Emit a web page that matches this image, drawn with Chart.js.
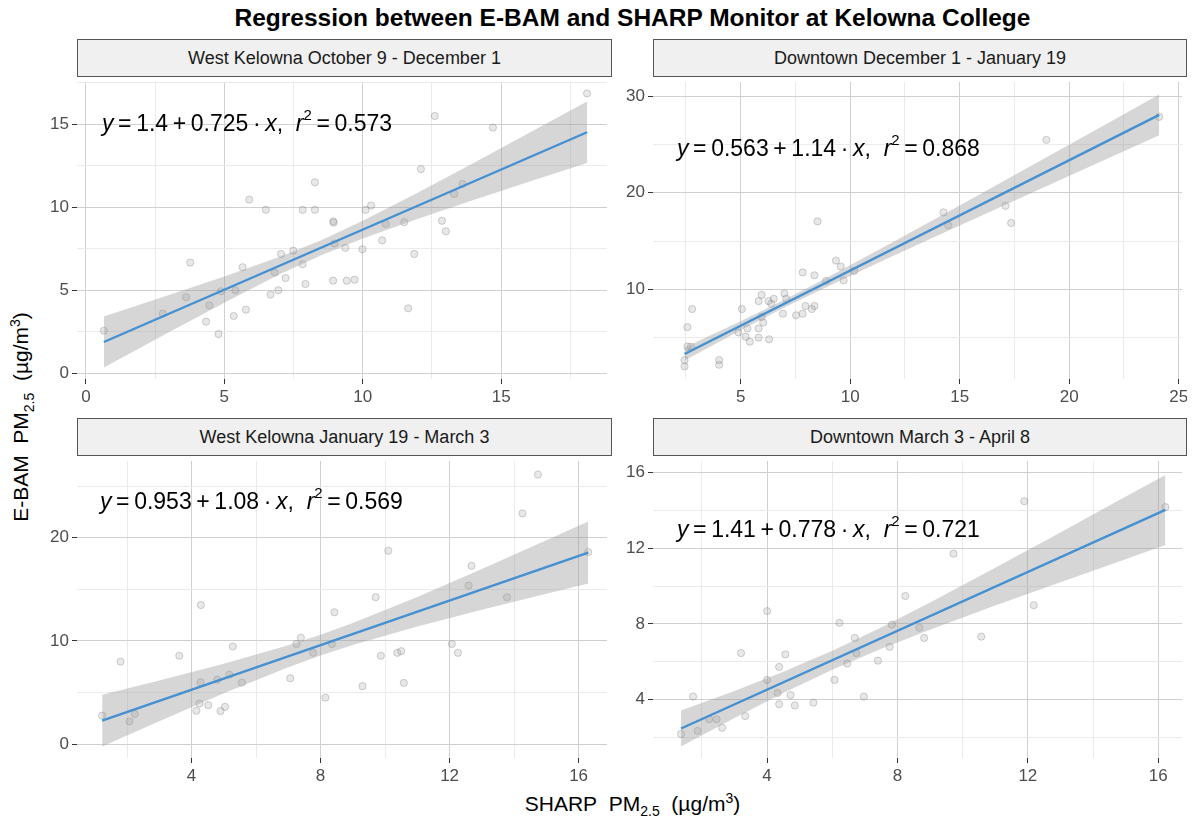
<!DOCTYPE html>
<html>
<head>
<meta charset="utf-8">
<script src="https://cdn.jsdelivr.net/npm/chart.js@4.4.1/dist/chart.umd.min.js"></script>
<style>
    body { margin: 0; background: #fff; font-family: "Liberation Sans", Arial, sans-serif; }
    #wrap { position: relative; width: 1198px; height: 828px; overflow: hidden; }
    .title { position: absolute; left: 77px; width: 1111px; top: 3px; line-height: 30px; text-align: center; font-weight: bold; font-size: 24.5px; color: #000; }
    .strip { position: absolute; box-sizing: border-box; background: #f0f0f0; border: 1.5px solid #555; font-size: 18px; color: #1a1a1a; display: flex; align-items: center; justify-content: center; }
    .panel { position: absolute; }
    .eq { position: absolute; font-size: 23px; color: #000; white-space: nowrap; line-height: 1; }
    .eq sup { font-size: 15px; position: relative; top: -2px; }
    .xtitle { position: absolute; left: 77px; width: 1111px; top: 790px; text-align: center; font-size: 21px; color: #000; white-space: nowrap; }
    .ytitle { position: absolute; left: 22px; top: 417px; transform: translate(-50%, -50%) rotate(-90deg); font-size: 21px; color: #000; white-space: nowrap; }
    sub { font-size: 14px; }
</style>
</head>
<body>
<div id="wrap">
    <div class="title">Regression between E-BAM and SHARP Monitor at Kelowna College</div>
    <div class="xtitle">SHARP&nbsp; PM<sub>2.5</sub>&nbsp; (µg/m<sup style="font-size:14px">3</sup>)</div>
    <div class="ytitle">E-BAM&nbsp; PM<sub>2.5</sub>&nbsp; (µg/m<sup style="font-size:14px">3</sup>)</div>
</div>
<script>
// West Kelowna Oct 9 - Dec 1
const p1X = [0.65,18.1,12.6,14.7,12.1,8.27,5.9,6.5,7.83,8.27,10.1,10.3,8.93,8.95,10.83,11.5,12.86,13.0,13.3,13.6,10.7,9.99,9.37,8.98,11.86,7.05,7.49,7.83,6.82,7.21,5.66,3.77,7.93,8.93,9.42,9.7,6.95,6.67,5.4,4.88,3.62,4.46,5.78,5.34,4.34,4.79,2.78,11.64];
const p1Y = [2.55,16.86,15.5,14.8,12.3,11.5,10.46,9.84,9.84,9.84,9.84,10.1,9.15,9.07,8.99,9.1,9.18,8.55,10.8,11.4,8.0,7.46,7.55,7.81,7.18,7.18,7.38,6.56,6.06,5.73,6.38,6.66,5.37,5.57,5.57,5.63,4.99,4.73,4.99,4.93,4.57,4.08,3.82,3.44,3.1,2.35,3.58,3.9];
const p1FitX = [0.65, 18.1];
const p1FitY = [1.87, 14.52];
const p1BandX = [0.65,3,5,7,8.5,10,12,14,16,18.1];
const p1BandLo = [0.33,2.46,4.24,5.95,7.11,8.12,9.31,10.43,11.53,12.67];
const p1BandHi = [3.41,4.70,5.82,7.01,8.01,9.18,10.89,12.67,14.47,16.37];

// Downtown Dec 1 - Jan 19
const p2X = [24.11,18.96,17.09,17.35,14.26,14.48,8.51,9.35,9.57,9.70,10.19,7.83,8.37,7.0,6.51,5.96,5.82,6.27,6.40,7.08,7.96,8.37,8.25,7.53,7.83,6.93,5.06,5.96,6.03,5.82,5.31,4.90,5.23,5.42,5.82,6.30,2.79,2.57,2.57,2.73,2.44,2.44,4.02,4.02,8.9];
const p2Y = [27.85,25.47,18.65,16.88,17.97,16.64,17.05,13.0,12.38,10.95,11.94,11.77,11.47,9.59,9.05,9.45,8.81,8.81,8.53,9.05,8.30,8.30,7.99,7.34,7.51,7.51,7.99,7.17,6.59,5.98,5.98,5.57,5.13,4.62,5.03,4.86,7.99,6.12,4.11,4.11,2.71,2.06,2.71,2.23,10.9];
const p2FitX = [2.44, 24.11];
const p2FitY = [3.34, 28.05];
const p2BandX = [2.44,5,7,9,12,15,18,21,24.11];
const p2BandLo = [2.66,5.79,8.14,10.35,13.52,16.62,19.69,22.76,25.95];
const p2BandHi = [4.02,6.73,8.94,11.29,14.96,18.70,22.47,26.24,30.15];

// West Kelowna Jan 19 - Mar 3
const p3X = [1.23,1.80,2.08,2.24,3.62,4.29,5.28,4.28,4.80,5.17,5.56,4.25,4.52,4.15,5.04,4.90,7.06,7.25,7.39,7.77,8.35,8.43,8.15,9.30,9.71,10.10,9.87,10.38,10.50,10.58,12.07,12.26,12.59,12.68,13.78,14.26,14.74,16.30];
const p3Y = [2.76,7.99,2.19,2.92,8.56,13.47,9.45,5.99,6.24,6.72,5.96,3.93,3.77,3.23,3.61,3.20,6.37,9.70,10.30,8.84,9.70,12.77,4.50,5.61,14.23,18.73,8.56,8.84,9.0,5.93,9.70,8.84,15.37,17.27,14.23,22.35,26.12,18.61];
const p3FitX = [1.23, 16.3];
const p3FitY = [2.28, 18.56];
const p3BandX = [1.23,3,5,7,8,9,11,13,15,16.3];
const p3BandLo = [-0.23,2.22,4.92,7.45,8.59,9.61,11.40,13.02,14.56,15.56];
const p3BandHi = [4.79,6.16,7.78,9.57,10.59,11.73,14.26,16.96,19.74,21.56];

// Downtown Mar 3 - Apr 8
const p4X = [1.36,1.73,1.87,2.22,2.45,2.62,3.20,3.33,4.0,4.0,4.32,4.37,4.37,4.56,4.72,4.85,5.42,6.07,6.22,6.46,6.69,6.74,6.97,7.40,7.76,7.83,8.24,8.67,8.82,9.72,10.57,11.89,12.18,16.22];
const p4Y = [2.18,4.16,2.34,2.96,2.96,2.51,6.46,3.13,8.68,5.04,4.35,5.73,3.76,6.39,4.24,3.69,3.84,5.04,8.06,5.91,7.26,6.46,4.16,6.06,6.79,7.97,9.48,7.80,7.26,11.72,7.33,14.49,8.99,14.18];
const p4FitX = [1.36, 16.22];
const p4FitY = [2.47, 14.03];
const p4BandX = [1.36,3,4.5,6,7.5,9,11,13,14.5,16.22];
const p4BandLo = [1.52,3.02,4.35,5.58,6.69,7.69,8.97,10.20,11.12,12.18];
const p4BandHi = [3.42,4.46,5.47,6.58,7.81,9.13,10.97,12.84,14.26,15.88];

// tick labels (major) per panel
const p1XTicks = [0,5,10,15], p1YTicks = [0,5,10,15];
const p2XTicks = [5,10,15,20,25], p2YTicks = [10,20,30];
const p3XTicks = [4,8,12,16], p3YTicks = [0,10,20];
const p4XTicks = [4,8,12,16], p4YTicks = [4,8,12,16];

const panels = [
    { box: [77, 77, 612, 379], strip: 'West Kelowna October 9 - December 1',
      x: p1X, y: p1Y, fitX: p1FitX, fitY: p1FitY, bX: p1BandX, bLo: p1BandLo, bHi: p1BandHi,
      xr: [-0.32, 18.82], yr: [-0.36, 17.55], xt: p1XTicks, yt: p1YTicks, xs: 2.5, ys: 2.5,
      eq: ['1.4', '0.725', '0.573'], eqPos: [102, 109] },
    { box: [653, 77, 1187, 379], strip: 'Downtown December 1 - January 19',
      x: p2X, y: p2Y, fitX: p2FitX, fitY: p2FitY, bX: p2BandX, bLo: p2BandLo, bHi: p2BandHi,
      xr: [1.0, 25.15], yr: [0.76, 31.45], xt: p2XTicks, yt: p2YTicks, xs: 2.5, ys: 5,
      eq: ['0.563', '1.14', '0.868'], eqPos: [677, 134] },
    { box: [77, 456, 612, 758], strip: 'West Kelowna January 19 - March 3',
      x: p3X, y: p3Y, fitX: p3FitX, fitY: p3FitY, bX: p3BandX, bLo: p3BandLo, bHi: p3BandHi,
      xr: [0.45, 16.88], yr: [-1.35, 27.43], xt: p3XTicks, yt: p3YTicks, xs: 2, ys: 5,
      eq: ['0.953', '1.08', '0.569'], eqPos: [100, 487] },
    { box: [653, 456, 1187, 758], strip: 'Downtown March 3 - April 8',
      x: p4X, y: p4Y, fitX: p4FitX, fitY: p4FitY, bX: p4BandX, bLo: p4BandLo, bHi: p4BandHi,
      xr: [0.5, 16.73], yr: [0.91, 16.62], xt: p4XTicks, yt: p4YTicks, xs: 2, ys: 2,
      eq: ['1.41', '0.778', '0.721'], eqPos: [677, 515] }
];

const wrap = document.getElementById('wrap');
const AXW = 40, AXH = 30;

const isMajor = (v, list) => list.some(t => Math.abs(t - v) < 1e-6);

function scaleOpts(min, max, step, majors, horizontal) {
    return {
        type: 'linear', min, max,
        border: { display: false },
        grid: {
            color: ctx => isMajor(ctx.tick.value, majors) ? '#d0d0d0' : '#ebebeb',
            lineWidth: 1,
            drawTicks: true,
            tickLength: 5,
            tickColor: ctx => isMajor(ctx.tick.value, majors) ? '#333' : 'rgba(0,0,0,0)'
        },
        ticks: {
            stepSize: step,
            includeBounds: false,
            autoSkip: false,
            maxRotation: 0,
            padding: 3,
            color: '#4d4d4d',
            font: { family: '"Liberation Sans", Arial, sans-serif', size: 17 },
            callback: v => isMajor(v, majors) ? String(v) : ''
        },
        afterFit: s => {
            if (horizontal) { s.height = AXH; s.paddingLeft = 0; s.paddingRight = 0; }
            else { s.width = AXW; s.paddingTop = 0; s.paddingBottom = 0; }
        }
    };
}

panels.forEach(p => {
    const [l, t, r, b] = p.box;

    const strip = document.createElement('div');
    strip.className = 'strip';
    strip.style.left = l + 'px';
    strip.style.top = (t - 38) + 'px';
    strip.style.width = (r - l) + 'px';
    strip.style.height = '38px';
    strip.textContent = p.strip;
    wrap.appendChild(strip);

    const canvas = document.createElement('canvas');
    canvas.className = 'panel';
    canvas.width = (r - l) + AXW;
    canvas.height = (b - t) + AXH;
    canvas.style.left = (l - AXW) + 'px';
    canvas.style.top = t + 'px';
    wrap.appendChild(canvas);

    const eq = document.createElement('div');
    eq.className = 'eq';
    eq.style.left = p.eqPos[0] + 'px';
    eq.style.top = p.eqPos[1] + 'px';
    eq.innerHTML = `<i>y</i>&thinsp;=&thinsp;${p.eq[0]}&thinsp;+&thinsp;${p.eq[1]}&thinsp;·&thinsp;<i>x</i>,&nbsp; <i>r</i><sup>2</sup>&thinsp;=&thinsp;${p.eq[2]}`;
    wrap.appendChild(eq);

    new Chart(canvas, {
        type: 'scatter',
        data: {
            datasets: [
                {
                    data: p.x.map((x, i) => ({ x, y: p.y[i] })),
                    pointRadius: 3.6,
                    pointBackgroundColor: 'rgba(150,150,150,0.22)',
                    pointBorderColor: 'rgba(110,110,110,0.3)',
                    pointBorderWidth: 1,
                    order: 3
                },
                {
                    type: 'line',
                    data: p.bX.map((x, i) => ({ x, y: p.bLo[i] })),
                    borderColor: 'rgba(0,0,0,0)', borderWidth: 0, pointRadius: 0, fill: false,
                    order: 2
                },
                {
                    type: 'line',
                    data: p.bX.map((x, i) => ({ x, y: p.bHi[i] })),
                    borderColor: 'rgba(0,0,0,0)', borderWidth: 0, pointRadius: 0,
                    fill: '-1', backgroundColor: 'rgba(153,153,153,0.4)',
                    order: 2
                },
                {
                    type: 'line',
                    data: p.fitX.map((x, i) => ({ x, y: p.fitY[i] })),
                    borderColor: '#4490d2', borderWidth: 2.4, pointRadius: 0, fill: false,
                    order: 1
                }
            ]
        },
        options: {
            responsive: false,
            animation: false,
            devicePixelRatio: 1,
            layout: { padding: 0 },
            plugins: { legend: { display: false }, tooltip: { enabled: false } },
            scales: {
                x: scaleOpts(p.xr[0], p.xr[1], p.xs, p.xt, true),
                y: scaleOpts(p.yr[0], p.yr[1], p.ys, p.yt, false)
            }
        }
    });
});
</script>
</body>
</html>
